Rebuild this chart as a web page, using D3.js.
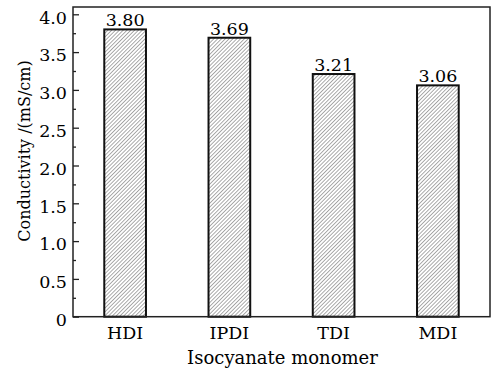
<!DOCTYPE html>
<html>
<head>
<meta charset="utf-8">
<script src="https://cdn.jsdelivr.net/npm/d3@7"></script>
<style>
  html, body { margin: 0; padding: 0; background: #fff; }
  svg { display: block; }
  text { font-family: "DejaVu Serif", "Liberation Serif", serif; fill: #000; }
</style>
</head>
<body>
<svg id="chart" width="501" height="371"></svg>
<script>
// Conductivity of the membranes by isocyanate monomer
const monomers = ["HDI", "IPDI", "TDI", "MDI"];
const conductivity = [3.80, 3.69, 3.21, 3.06];
const yTicks = [0, 0.5, 1.0, 1.5, 2.0, 2.5, 3.0, 3.5, 4.0];
const yTickLabels = ["0", "0.5", "1.0", "1.5", "2.0", "2.5", "3.0", "3.5", "4.0"];
const yMinorTicks = [0.25, 0.75, 1.25, 1.75, 2.25, 2.75, 3.25, 3.75];

const svg = d3.select("#chart");
const plot = { left: 73, right: 490, top: 7, bottom: 316.7 };

const x = d3.scaleBand().domain(monomers).range([plot.left, plot.right])
  .paddingInner(0.6).paddingOuter(0.3);
const y = d3.scaleLinear().domain([0, 4.0]).range([plot.bottom, 14.3]);

// diagonal hatch fill for the bars
const hatchSize = 2.7;
const defs = svg.append("defs");
const pat = defs.append("pattern")
  .attr("id", "hatch")
  .attr("patternUnits", "userSpaceOnUse")
  .attr("width", hatchSize).attr("height", hatchSize)
  .attr("patternTransform", "rotate(45)");
pat.append("rect").attr("width", hatchSize).attr("height", hatchSize).attr("fill", "#fff");
pat.append("line")
  .attr("x1", 0).attr("y1", 0).attr("x2", 0).attr("y2", hatchSize)
  .attr("stroke", "#444").attr("stroke-width", 0.9);

const rows = monomers.map((m, i) => ({ m, v: conductivity[i] }));

// bars
svg.append("g").selectAll("rect")
  .data(rows)
  .join("rect")
  .attr("x", d => x(d.m))
  .attr("y", d => y(d.v))
  .attr("width", x.bandwidth())
  .attr("height", d => y(0) - y(d.v))
  .attr("fill", "url(#hatch)")
  .attr("stroke", "#111")
  .attr("stroke-width", 2);

// value labels
svg.append("g").selectAll("text")
  .data(rows)
  .join("text")
  .attr("x", d => x(d.m) + x.bandwidth() / 2)
  .attr("y", d => y(d.v) - 3)
  .attr("text-anchor", "middle")
  .attr("font-size", 17.5)
  .text(d => d.v.toFixed(2));

// frame
svg.append("rect")
  .attr("x", plot.left).attr("y", plot.top)
  .attr("width", plot.right - plot.left).attr("height", plot.bottom - plot.top)
  .attr("fill", "none").attr("stroke", "#222").attr("stroke-width", 1.5);

// left axis: inward major and minor ticks
const yAxis = d3.axisLeft(y)
  .tickValues(yTicks)
  .tickSize(-6)
  .tickPadding(6)
  .tickFormat((d, i) => yTickLabels[i]);
const gy = svg.append("g").attr("transform", `translate(${plot.left},0)`).call(yAxis);
gy.select(".domain").remove();
gy.selectAll(".tick line").attr("stroke", "#222").attr("stroke-width", 1.3);
gy.selectAll(".tick text")
  .attr("font-family", "DejaVu Serif")
  .attr("font-size", 17.5)
  .attr("fill", "#000")
  .attr("dy", "0.5em");

const gyMinor = svg.append("g").attr("transform", `translate(${plot.left},0)`)
  .call(d3.axisLeft(y).tickValues(yMinorTicks).tickSize(-3).tickFormat(""));
gyMinor.select(".domain").remove();
gyMinor.selectAll(".tick line").attr("stroke", "#222").attr("stroke-width", 1.3);

// bottom axis labels only
const xAxis = d3.axisBottom(x).tickSize(0).tickPadding(10);
const gx = svg.append("g").attr("transform", `translate(0,${plot.bottom})`).call(xAxis);
gx.select(".domain").remove();
gx.selectAll(".tick text")
  .attr("font-family", "DejaVu Serif")
  .attr("font-size", 17.5)
  .attr("fill", "#000");

// axis titles
svg.append("text")
  .attr("x", 282.5)
  .attr("y", 364)
  .attr("text-anchor", "middle")
  .attr("font-size", 18)
  .text("Isocyanate monomer");

svg.append("text")
  .attr("transform", "translate(30,151) rotate(-90)")
  .attr("text-anchor", "middle")
  .attr("font-size", 16)
  .text("Conductivity /(mS/cm)");
</script>
</body>
</html>
